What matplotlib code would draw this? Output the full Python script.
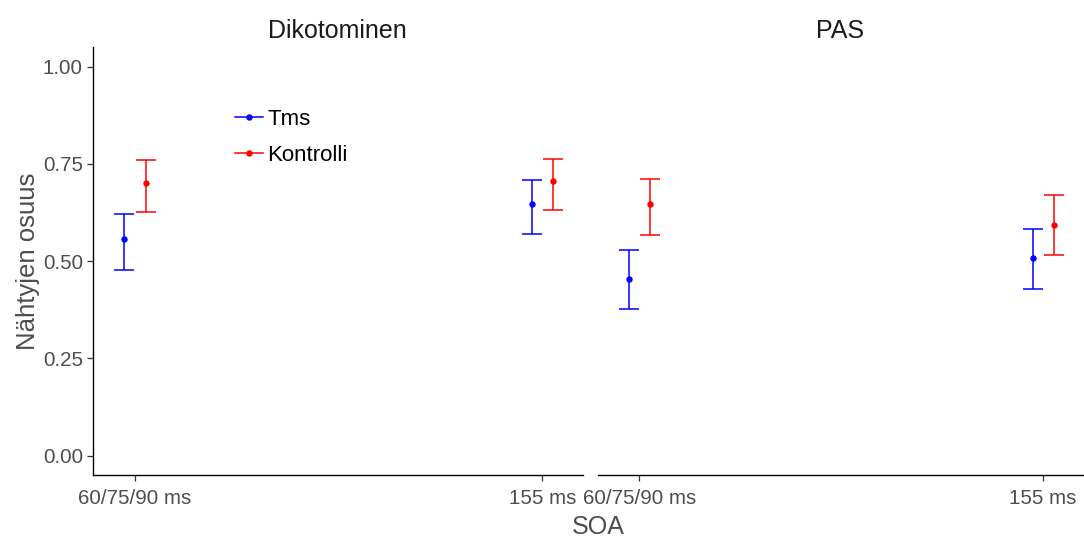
import matplotlib
matplotlib.use("Agg")
import matplotlib.pyplot as plt
from matplotlib.lines import Line2D
import numpy as np

plt.rcParams["font.family"] = ["Liberation Sans", "DejaVu Sans"]

# Aineisto: osuudet ja luottamusvälit paneeleittain
SOA_LABELS = ["60/75/90 ms", "155 ms"]
PANELS = ["Dikotominen", "PAS"]
GROUPS = ["Tms", "Kontrolli"]
COLORS = {"Tms": "#0000FF", "Kontrolli": "#FF0000"}

dik_tms_mean = [0.556, 0.647]
dik_tms_lo = [0.477, 0.571]
dik_tms_hi = [0.622, 0.708]
dik_kon_mean = [0.702, 0.706]
dik_kon_lo = [0.627, 0.632]
dik_kon_hi = [0.759, 0.764]

pas_tms_mean = [0.453, 0.508]
pas_tms_lo = [0.378, 0.429]
pas_tms_hi = [0.528, 0.583]
pas_kon_mean = [0.647, 0.594]
pas_kon_lo = [0.566, 0.515]
pas_kon_hi = [0.712, 0.671]

data = {
    "Dikotominen": {
        "Tms": (dik_tms_mean, dik_tms_lo, dik_tms_hi),
        "Kontrolli": (dik_kon_mean, dik_kon_lo, dik_kon_hi),
    },
    "PAS": {
        "Tms": (pas_tms_mean, pas_tms_lo, pas_tms_hi),
        "Kontrolli": (pas_kon_mean, pas_kon_lo, pas_kon_hi),
    },
}

DODGE = {"Tms": -0.026, "Kontrolli": 0.026}
GREY = "#4D4D4D"

W, H = 1084, 542
fig = plt.figure(figsize=(W / 100, H / 100), dpi=100)


def fx(px):
    return px / W


def fy(py):
    return 1 - py / H


bottom = fy(475)
top = fy(47.3)
ax1 = fig.add_axes([fx(92.7), bottom, fx(583) - fx(92.7), top - bottom])
ax2 = fig.add_axes([fx(597.5), bottom, fx(1083.5) - fx(597.5), top - bottom])

x = np.arange(1, len(SOA_LABELS) + 1)

for ax, panel in zip([ax1, ax2], PANELS):
    for g in GROUPS:
        mean, lo, hi = (np.array(v) for v in data[panel][g])
        ax.errorbar(
            x + DODGE[g],
            mean,
            yerr=[mean - lo, hi - mean],
            fmt="o",
            color=COLORS[g],
            markersize=3.6,
            elinewidth=1.1,
            capsize=7.2,
            capthick=1.1,
        )

    ax.set_xlim(0.896, 2.1)
    ax.set_ylim(-0.05, 1.05)
    ax.set_xticks(x)
    ax.set_xticklabels(SOA_LABELS)
    for s in ["top", "right"]:
        ax.spines[s].set_visible(False)
    for s in ["left", "bottom"]:
        ax.spines[s].set_linewidth(1.0)
        ax.spines[s].set_color("black")
    ax.tick_params(axis="both", labelsize=14.8, labelcolor=GREY, color="#333333",
                   length=4, width=0.9, pad=3)
    ax.tick_params(axis="x", pad=6)
    ax.set_title(panel, fontsize=18, color="#1A1A1A", pad=7)

ax1.set_yticks([0, 0.25, 0.5, 0.75, 1.0])
ax1.set_yticklabels(["0.00", "0.25", "0.50", "0.75", "1.00"])
ax1.set_ylabel("Nähtyjen osuus", fontsize=18.5, color=GREY, labelpad=2)

ax2.spines["left"].set_visible(False)
ax2.set_yticks([])

fig.text(fx(598), fy(527), "SOA", fontsize=18, color=GREY, ha="center", va="center")

handles = [
    Line2D([], [], color=COLORS[g], marker="o", markersize=3.6, linewidth=1.1)
    for g in GROUPS
]
ax1.legend(
    handles,
    GROUPS,
    loc="upper left",
    bbox_to_anchor=(fx(235), fy(109)),
    bbox_transform=fig.transFigure,
    frameon=False,
    fontsize=16,
    handlelength=1.26,
    handletextpad=0.2,
    labelspacing=0.68,
    borderpad=0,
    borderaxespad=0,
)

fig.savefig("out.png", dpi=100)
